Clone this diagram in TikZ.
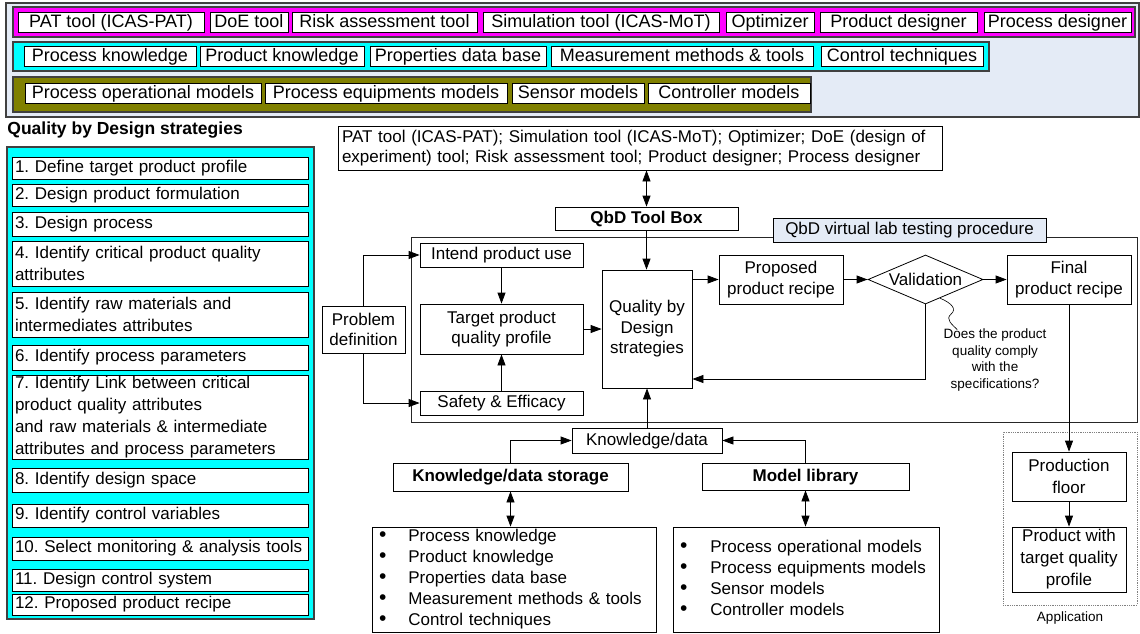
\documentclass[tikz,border=0pt]{standalone}
\usepackage{fontspec}
\setmainfont{Liberation Sans}
\usetikzlibrary{arrows.meta,shapes.geometric,calc}
\frenchspacing

\definecolor{panelbg}{RGB}{228,235,246}
\definecolor{barmagenta}{RGB}{255,0,255}
\definecolor{barcyan}{RGB}{0,255,255}
\definecolor{barolive}{RGB}{128,128,0}
\definecolor{edgegray}{RGB}{64,64,64}

\newcommand{\diagfont}{\fontsize{17}{20.5}\selectfont}
\newcommand{\rowfont}{\fontsize{18}{20}\selectfont}
\newcommand{\notefont}{\fontsize{13.5}{16.5}\selectfont}
\newcommand{\dotmark}{{\fontsize{21}{21}\selectfont\textbullet}}

% \boxat{style}{name}{x1}{y1}{x2}{y2}{text}: box spanning the given corners
\newcommand{\boxat}[7]{%
  \pgfmathsetmacro{\qbw}{#5-#3}%
  \pgfmathsetmacro{\qbh}{#6-#4}%
  \pgfmathsetmacro{\qcx}{(#3+#5)/2}%
  \pgfmathsetmacro{\qcy}{(#4+#6)/2}%
  \node[#1, minimum width=\qbw pt, minimum height=\qbh pt] (#2) at (\qcx,\qcy) {#7};}

\begin{document}
\begin{tikzpicture}[x=1pt, y=-1pt,
  font=\diagfont,
  line width=0.8pt,
  panel/.style={draw=edgegray, line width=1.2pt, inner sep=0pt},
  box/.style={draw=black, fill=white, inner sep=0pt, align=center, font=\diagfont},
  onebox/.style={box, text height=13.2pt, text depth=3.8pt},
  chip/.style={box, font=\rowfont, text height=14pt, text depth=3pt},
  listbox/.style={draw=black, fill=white, inner xsep=3pt, inner ysep=0pt,
    text width=290pt, align=left, font=\fontsize{17}{22}\selectfont},
  bulletbox/.style={draw=black, fill=white, inner xsep=7pt, inner ysep=0pt,
    align=left, font=\fontsize{17}{21}\selectfont},
  tallbox/.style={box, font=\fontsize{17}{22}\selectfont},
  note/.style={inner sep=0pt, align=center, font=\notefont},
  arr/.style={-{Triangle[length=11pt,width=8pt]}},
  dblarr/.style={{Triangle[length=11pt,width=8pt]}-{Triangle[length=11pt,width=8pt]}},
]
\useasboundingbox (0,0) rectangle (1140,634);

% ---------- tool bar with the three rows ----------
\boxat{panel, fill=panelbg}{toolbar}{6}{3}{1139}{117}{}
\boxat{panel, fill=barmagenta}{rowtools}{13}{7}{1135}{37}{}
\boxat{panel, fill=barcyan}{rowknow}{13}{42}{989}{71}{}
\boxat{panel, fill=barolive}{rowmodels}{13}{77}{811}{112}{}

\boxat{chip}{pat}{18}{12}{204}{32}{PAT tool (ICAS-PAT)}
\boxat{chip}{doe}{210}{12}{288}{32}{DoE tool}
\boxat{chip}{risk}{292}{12}{477}{32}{Risk assessment tool}
\boxat{chip}{sim}{483}{12}{719}{32}{Simulation tool (ICAS-MoT)}
\boxat{chip}{opt}{726}{12}{814}{32}{Optimizer}
\boxat{chip}{prodd}{820}{12}{977}{32}{Product designer}
\boxat{chip}{procd}{984}{12}{1131}{32}{Process designer}

\boxat{chip}{pk}{24}{46}{196}{66}{Process knowledge}
\boxat{chip}{prk}{200}{46}{364}{66}{Product knowledge}
\boxat{chip}{pdb}{370}{46}{546}{66}{Properties data base}
\boxat{chip}{mmt}{551}{46}{813}{66}{Measurement methods \& tools}
\boxat{chip}{ctech}{821}{46}{983}{66}{Control techniques}

\boxat{chip}{pom}{25}{83}{261}{103}{Process operational models}
\boxat{chip}{pem}{265}{83}{507}{103}{Process equipments models}
\boxat{chip}{sensm}{512}{83}{644}{103}{Sensor models}
\boxat{chip}{ctrlm}{648}{83}{810}{103}{Controller models}

% ---------- strategy list ----------
\node[anchor=west, inner sep=0pt, font=\fontsize{17.5}{20}\selectfont\bfseries] (strattitle) at (7,130) {Quality by Design strategies};
\boxat{panel, fill=barcyan}{stratpanel}{7}{147}{314}{619}{}
\boxat{listbox}{s1}{12}{157}{308}{179}{1. Define target product profile}
\boxat{listbox}{s2}{12}{184}{308}{206}{2. Design product formulation}
\boxat{listbox}{s3}{12}{212}{308}{236}{3. Design process}
\boxat{listbox}{s4}{12}{241}{308}{286}{4. Identify critical product quality\\attributes}
\boxat{listbox}{s5}{12}{292}{308}{337}{5. Identify raw materials and\\intermediates attributes}
\boxat{listbox}{s6}{12}{345}{308}{370}{6. Identify process parameters}
\boxat{listbox}{s7}{12}{375}{308}{459}{7. Identify Link between critical\\product quality attributes\\and raw materials \& intermediate\\attributes and process parameters}
\boxat{listbox}{s8}{12}{468}{308}{492}{8. Identify design space}
\boxat{listbox}{s9}{12}{504}{308}{527}{9. Identify control variables}
\boxat{listbox}{s10}{12}{537}{308}{560}{10. Select monitoring \& analysis tools}
\boxat{listbox}{s11}{12}{569}{308}{591}{11. Design control system}
\boxat{listbox}{s12}{12}{594}{308}{615}{12. Proposed product recipe}

% ---------- tool box ----------
\boxat{box, align=left, inner xsep=4pt, text width=596pt}{tools}{338}{126}{942}{170}{PAT tool (ICAS-PAT); Simulation tool (ICAS-MoT); Optimizer; DoE (design of\\experiment) tool; Risk assessment tool; Product designer; Process designer}
\boxat{onebox, font=\diagfont\bfseries}{qtb}{555}{207}{738}{230}{QbD Tool Box}

% ---------- virtual lab testing procedure ----------
\boxat{draw=black!85, inner sep=0pt}{vlab}{411}{237}{1137}{422}{}
\boxat{onebox, fill=panelbg}{vlabel}{773}{218}{1046}{242}{QbD virtual lab testing procedure}

\boxat{box}{prob}{322}{306}{405}{353}{Problem\\definition}
\boxat{onebox}{intend}{420}{243}{583}{267}{Intend product use}
\boxat{box}{target}{420}{304}{583}{354}{Target product\\quality profile}
\boxat{onebox}{safety}{420}{391}{583}{415}{Safety \& Efficacy}
\boxat{box}{qbd}{602}{270}{692}{388}{Quality by\\Design\\strategies}
\boxat{box}{prop}{719}{255}{843}{304}{Proposed\\product recipe}
\node[draw=black, fill=white, diamond, aspect=2.35, minimum width=115pt, minimum height=49pt, inner sep=0pt] (val) at (925.5,279.5) {Validation};
\boxat{box}{final}{1007}{255}{1131}{304}{Final\\product recipe}
\node[note] (qnote) at (995,360) {Does the product\\quality comply\\with the\\specifications?};

% ---------- knowledge and models ----------
\boxat{onebox}{kd}{572}{428}{722}{453}{Knowledge/data}
\boxat{onebox, font=\diagfont\bfseries}{kds}{393}{463}{628}{491}{Knowledge/data storage}
\boxat{onebox, font=\diagfont\bfseries}{ml}{702}{463}{909}{490}{Model library}
\boxat{bulletbox, text width=270pt}{slist}{372}{527}{656}{632}{\begin{tabular}{@{}l@{\hspace{22pt}}l@{}}
\dotmark & Process knowledge\\
\dotmark & Product knowledge\\
\dotmark & Properties data base\\
\dotmark & Measurement methods \& tools\\
\dotmark & Control techniques
\end{tabular}}
\boxat{bulletbox, text width=252pt}{mlist}{673}{527}{939}{632}{\begin{tabular}{@{}l@{\hspace{23pt}}l@{}}
\dotmark & Process operational models\\
\dotmark & Process equipments models\\
\dotmark & Sensor models\\
\dotmark & Controller models
\end{tabular}}

% ---------- application ----------
\boxat{draw=gray, densely dotted, inner sep=0pt}{appbox}{1003}{432}{1137}{605}{}
\boxat{tallbox}{pfloor}{1012}{452}{1126}{501}{Production\\floor}
\boxat{tallbox}{pwith}{1012}{527}{1126}{592}{Product with\\target quality\\profile}
\node[note] (applbl) at (1070,618) {Application};

% ---------- connectors ----------
\draw[dblarr] (qtb.north) -- (qtb.north |- tools.south);
\draw[arr] (qtb.south) -- (qtb.south |- qbd.north);
\draw[arr] (prob.north) |- (intend.west);
\draw[arr] (prob.south) |- (safety.west);
\draw[arr] (intend) -- (target);
\draw[arr] (safety) -- (target);
\draw[arr] (target) -- (qbd);
\draw[arr] (qbd.east |- prop.west) -- (prop.west);
\draw[arr] (prop) -- (val);
\draw[arr] (val) -- (final);
\coordinate (fbrow) at (0,379);
\draw[arr] (val.south) |- (qbd.east |- fbrow);
\draw[arr] (final.south) -- (pfloor.north);
\draw[arr] (pfloor) -- (pwith);
\draw[arr] (kd.north) -- (kd.north |- qbd.south);
\draw[arr] (kds.north) |- (kd.west);
\draw[arr] (ml.north) |- (kd.east);
\draw[dblarr] (kds.south) -- (kds.south |- slist.north);
\draw[dblarr] (ml.south) -- (ml.south |- mlist.north);

% callout from the validation step to its question
\coordinate (cstart) at ($(val.south)!0.25!(val.east)$);
\coordinate (cend) at ($(qnote.north west)+(14,1)$);
\draw[line width=0.6pt] (cstart) .. controls ($(cstart)+(12,5)$) and ($(cstart)+(17,11)$) .. ($(cstart)+(11,16)$)
  .. controls ($(cstart)+(5,21)$) and ($(cend)+(-5,-5)$) .. (cend);
\end{tikzpicture}
\end{document}
